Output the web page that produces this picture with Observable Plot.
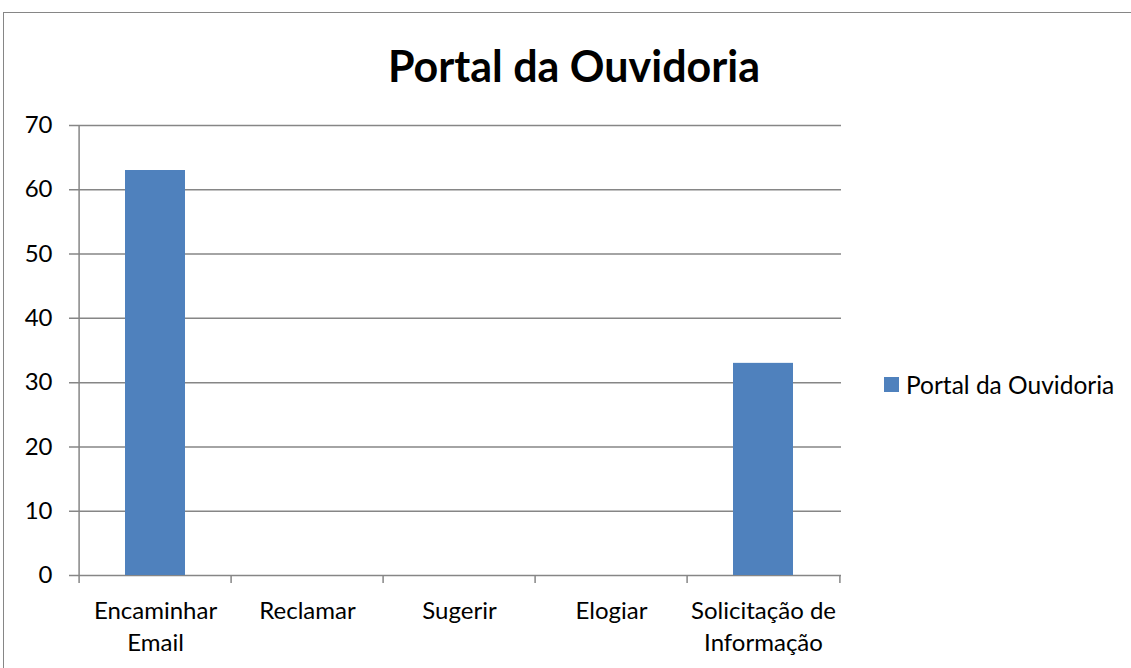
<!DOCTYPE html>
<html>
<head>
<meta charset="utf-8">
<script src="https://cdn.jsdelivr.net/npm/d3@7"></script>
<script src="https://cdn.jsdelivr.net/npm/@observablehq/plot@0.6"></script>
<style>
  html, body { margin: 0; padding: 0; background: #fff; }
  #wrap { position: relative; width: 1131px; height: 668px; overflow: hidden; font-family: Lato, "Open Sans", sans-serif; }
  #frame { position: absolute; left: 3px; top: 12px; width: 1140px; height: 700px; border: 1.5px solid #868686; box-sizing: border-box; }
  #chart { position: absolute; left: 0; top: 0; }
  #title { position: absolute; left: 0; width: 1148px; top: 40px; text-align: center; font-weight: bold; font-size: 43px; color: #000; }
  #legend { position: absolute; left: 884px; top: 370px; display: flex; align-items: center; font-size: 24.5px; color: #000; }
  #legend .sw { width: 15px; height: 15px; background: #4F81BD; margin-right: 7px; }
</style>
</head>
<body>
<div id="wrap">
  <div id="frame"></div>
  <div id="chart"></div>
  <div id="title">Portal da Ouvidoria</div>
  <div id="legend"><div class="sw"></div><span>Portal da Ouvidoria</span></div>
</div>
<script>
const categories = ["Encaminhar\nEmail", "Reclamar", "Sugerir", "Elogiar", "Solicitação de\nInformação"];
const values = [63, 0, 0, 0, 33];
const yTicks = [0, 10, 20, 30, 40, 50, 60, 70];
const seriesName = "Portal da Ouvidoria";

const data = categories.map((c, i) => ({category: c, value: values[i], series: seriesName}));

const W = 1131, H = 668;
const mL = 77, mR = 290, mT = 125, mB = 93;
const step = (W - mL - mR) / categories.length;
const barInset = 46;

const chart = Plot.plot({
  width: W,
  height: H,
  marginLeft: mL,
  marginRight: mR,
  marginTop: mT,
  marginBottom: mB,
  style: {fontFamily: "Lato, 'Open Sans', sans-serif", fontSize: "24px", color: "#000", background: "transparent"},
  x: {domain: categories, padding: 0, axis: null},
  y: {domain: [0, 70], axis: null},
  marks: [
    Plot.ruleY(yTicks, {y: d => d, stroke: "#868686", strokeWidth: 1.5, insetLeft: -8}),
    Plot.barY(data, {x: "category", y: "value", fill: "#4F81BD", insetLeft: barInset, insetRight: barInset}),
    Plot.ruleX([categories[0]], {x: d => d, y1: 70, y2: 0, dx: -step / 2, stroke: "#868686", strokeWidth: 1.5, insetBottom: -8}),
    Plot.ruleX(categories.slice(1), {x: d => d, y1: 0, y2: 0, dx: -step / 2, stroke: "#868686", strokeWidth: 1.5, insetBottom: -8}),
    Plot.ruleX([categories[categories.length - 1]], {x: d => d, y1: 0, y2: 0, dx: step / 2, stroke: "#868686", strokeWidth: 1.5, insetBottom: -8}),
    Plot.axisY(yTicks, {tickSize: 0, tickPadding: 25, label: null, tickFormat: d => String(d)}),
    Plot.axisX({tickSize: 0, tickPadding: 21, label: null, lineHeight: 1.33})
  ]
});
document.getElementById("chart").appendChild(chart);
</script>
</body>
</html>
